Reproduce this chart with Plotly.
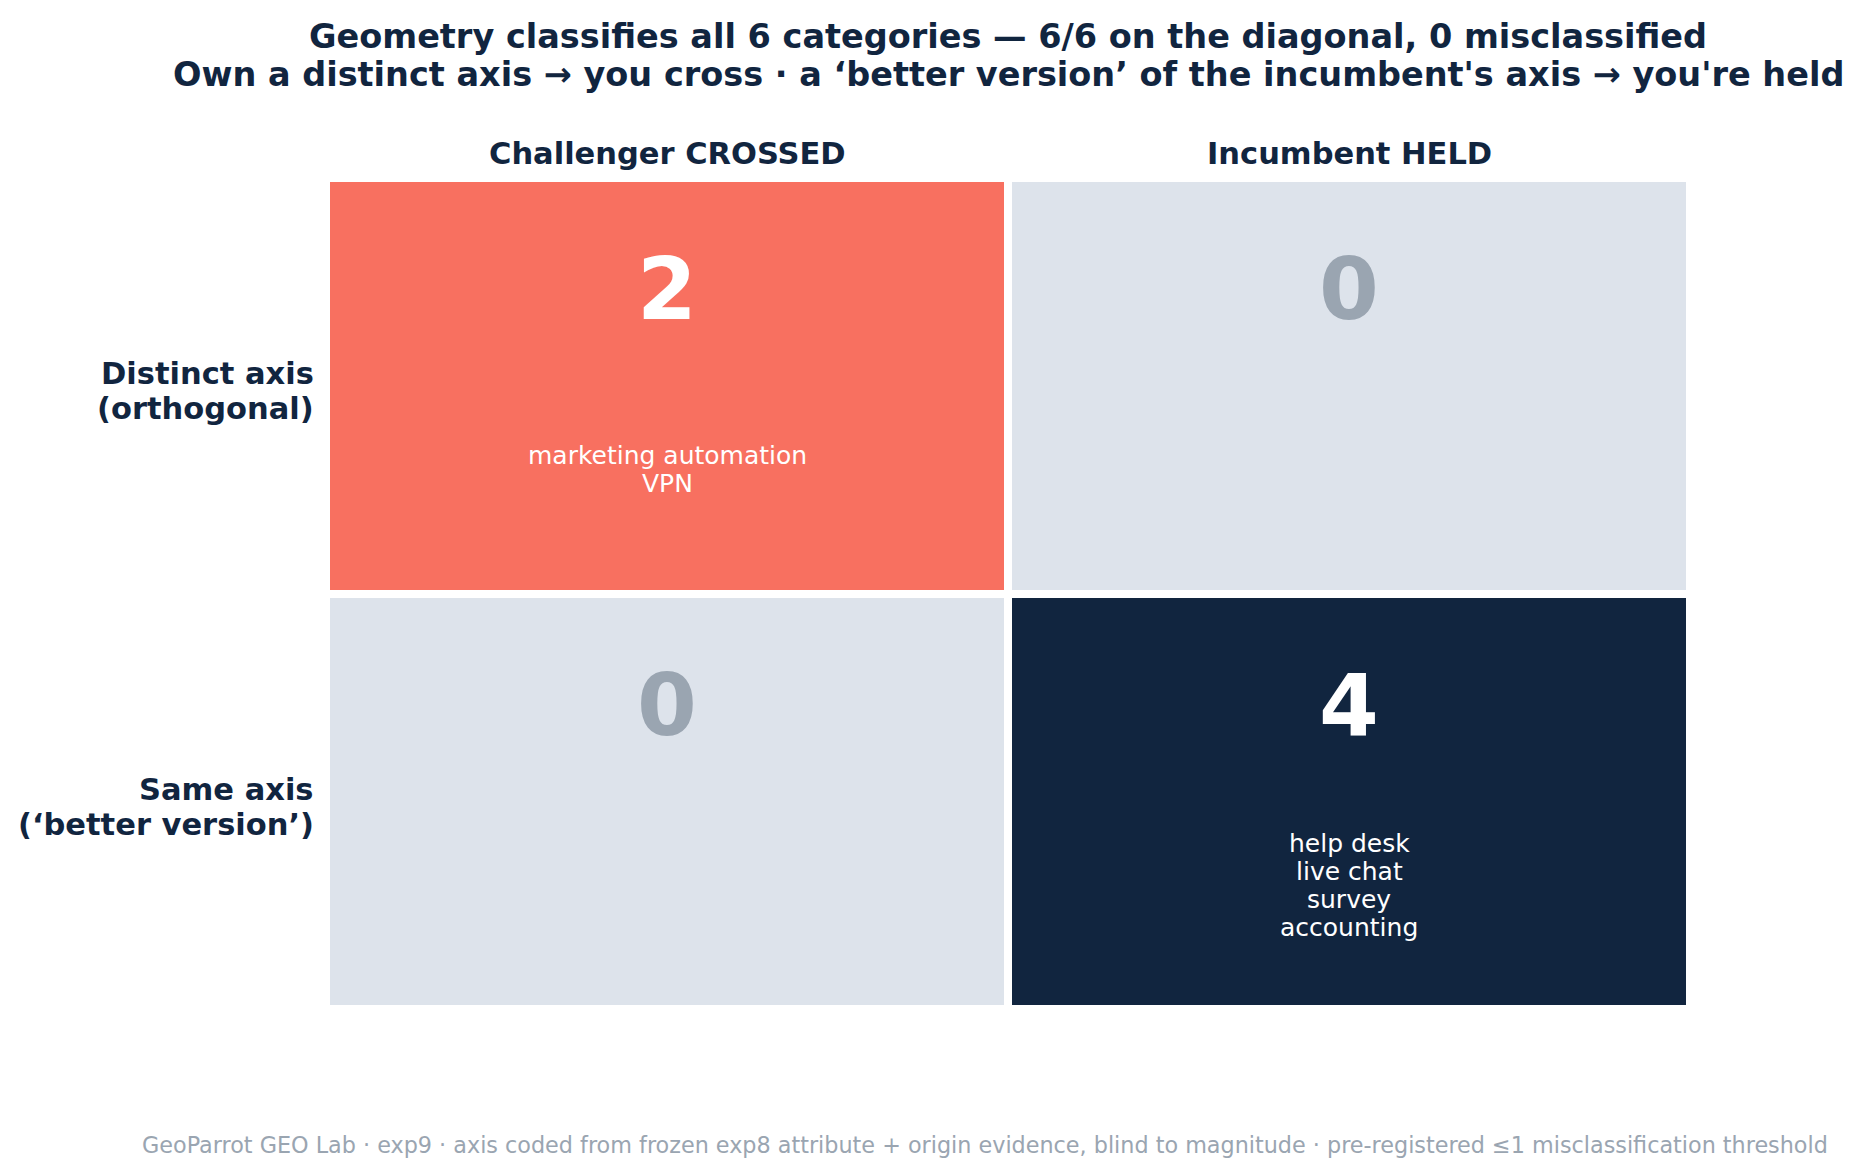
import plotly.graph_objects as go

# confusion matrix data
col_labels = ["Challenger CROSSED", "Incumbent HELD"]
row_labels = [["Distinct axis", "(orthogonal)"], ["Same axis", "(‘better version’)"]]
counts = [[2, 0], [0, 4]]
members = [[["marketing automation", "VPN"], []],
           [[], ["help desk", "live chat", "survey", "accounting"]]]

title_lines = ["Geometry classifies all 6 categories — 6/6 on the diagonal, 0 misclassified",
               "Own a distinct axis → you cross · a ‘better version’ of the incumbent's axis → you're held"]
footer = ("GeoParrot GEO Lab · exp9 · axis coded from frozen exp8 attribute + origin evidence, "
          "blind to magnitude · pre-registered ≤1 misclassification threshold")

NAVY = "#11253F"
CORAL = "#F87060"
LIGHT = "#DDE3EB"
GRAY = "#9AA5B1"
FONT = "DejaVu Sans"

fig = go.Figure()

# cell colours keyed to count: 0 -> light, 2 -> coral, 4 -> navy
fig.add_trace(go.Heatmap(
    z=counts, x=[0, 1], y=[0, 1],
    zmin=0, zmax=4,
    colorscale=[[0, LIGHT], [0.25, LIGHT], [0.25, CORAL], [0.75, CORAL], [0.75, NAVY], [1, NAVY]],
    showscale=False, xgap=8, ygap=8, hoverinfo="skip",
))

ann = []
for r in range(2):
    for c in range(2):
        n = counts[r][c]
        ann.append(dict(x=c, y=r - 0.232, text="<b>%d</b>" % n, showarrow=False,
                        yanchor="middle",
                        font=dict(family=FONT, size=86, color="white" if n else GRAY)))
        lines = members[r][c]
        step = 0.0674
        start = r + 0.202 - step * (len(lines) - 1) / 2
        for i, t in enumerate(lines):
            ann.append(dict(x=c, y=start + i * step, text=t, showarrow=False,
                            yanchor="middle",
                            font=dict(family=FONT, size=25, color="white")))

# column headers
for c, lab in enumerate(col_labels):
    ann.append(dict(x=c, y=1.030, xref="x", yref="paper", text="<b>%s</b>" % lab,
                    showarrow=False, yanchor="middle",
                    font=dict(family=FONT, size=30.5, color=NAVY)))

# row labels
for r, lines in enumerate(row_labels):
    for i, t in enumerate(lines):
        ann.append(dict(x=-0.007, y=r + 0.013 + (i - 0.5) * 0.084, xref="paper", yref="y",
                        text="<b>%s</b>" % t, showarrow=False, xanchor="right", yanchor="middle",
                        font=dict(family=FONT, size=30.5, color=NAVY)))

# title and footer
for t, yy in zip(title_lines, [1.170, 1.1245]):
    ann.append(dict(x=0.5, y=yy, xref="paper", yref="paper", text="<b>%s</b>" % t,
                    showarrow=False, yanchor="middle",
                    font=dict(family=FONT, size=33.5, color=NAVY)))
ann.append(dict(x=0.483, y=-0.1637, xref="paper", yref="paper", text=footer,
                showarrow=False, yanchor="middle",
                font=dict(family=FONT, size=22.3, color=GRAY)))

fig.update_layout(
    width=1859, height=1174,
    margin=dict(l=318, r=177, t=170, b=173),
    plot_bgcolor="white", paper_bgcolor="white",
    annotations=ann,
    xaxis=dict(range=[-0.5, 1.5], visible=False),
    yaxis=dict(range=[1.5, -0.5], visible=False),
)

fig.write_html("out.html")
